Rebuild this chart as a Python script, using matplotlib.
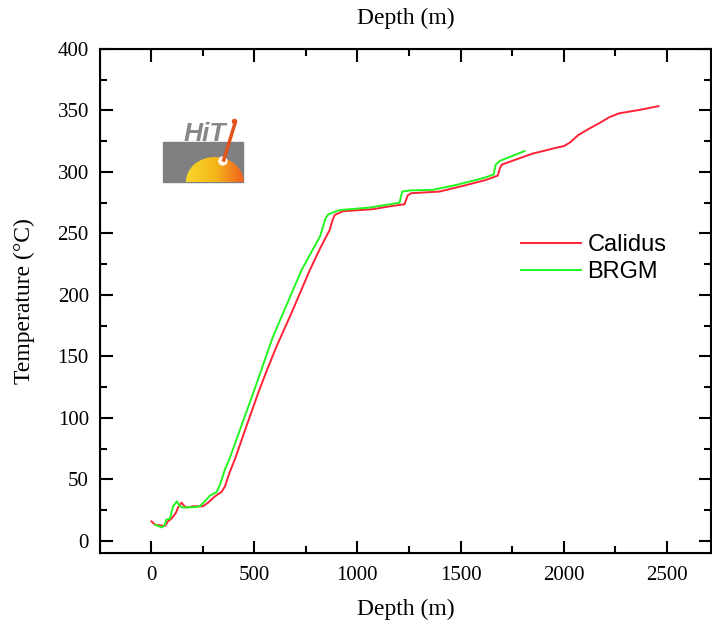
import matplotlib
matplotlib.use("Agg")
import matplotlib.pyplot as plt
import numpy as np
from matplotlib.patches import Rectangle, Ellipse, Circle
from matplotlib.colors import LinearSegmentedColormap
from matplotlib.ticker import MultipleLocator

# Calidus temperature log (depth m, temperature C)
calidus_depth = [3, 20, 68, 82, 100, 121, 131, 148, 160, 172, 204, 252, 277, 309, 342, 358,
                 382, 406, 460, 519, 560, 608, 680, 769, 820, 866, 880, 890, 930, 1075,
                 1156, 1228, 1244, 1261, 1397, 1510, 1623, 1680, 1690, 1700, 1750, 1800,
                 1850, 1900, 1958, 2000, 2030, 2070, 2120, 2171, 2220, 2268, 2365, 2458]
calidus_temp = [15.7, 13, 12, 15.7, 18, 22.7, 27, 31, 28.5, 27, 28, 28, 31, 36, 39.7, 44,
                56, 66, 92, 120, 138, 158, 185, 220, 238, 253, 261, 265, 268, 269.7,
                272, 273.7, 281, 282.7, 284, 288.6, 293.5, 297, 303, 306, 309, 312,
                315, 317, 319.5, 321, 324, 330, 335, 339.6, 344.5, 347.7, 350.4, 353.5]

# BRGM temperature log
brgm_depth = [20, 52, 68, 73, 92, 107, 126, 140, 156, 221, 236, 261, 285, 318, 334, 358,
              379, 495, 591, 729, 820, 845, 856, 866, 914, 1059, 1204, 1217, 1260, 1365,
              1478, 1575, 1620, 1660, 1670, 1690, 1750, 1810]
brgm_temp = [13, 10.8, 13, 17, 18, 28, 32, 28, 27, 27.4, 28, 32, 36.6, 39.6, 45.5, 57.7,
             66, 120, 166, 220, 248, 262, 265, 266, 269, 271, 275, 284, 285, 285.4,
             289.4, 293.5, 295.5, 298, 306, 309, 313, 317]

serif = 'Liberation Serif'

fig = plt.figure(figsize=(7.12, 6.25), dpi=100)
ax = fig.add_axes([0.1404, 0.1152, 0.8583, 0.8064])

ax.plot(calidus_depth, calidus_temp, color='#ff2236', lw=1.4, label='Calidus')
ax.plot(brgm_depth, brgm_temp, color='#22f522', lw=1.4, label='BRGM')

ax.set_xlim(-247, 2713)
ax.set_ylim(-10, 400)
ax.xaxis.set_major_locator(MultipleLocator(500))
ax.xaxis.set_minor_locator(MultipleLocator(250))
ax.yaxis.set_major_locator(MultipleLocator(50))
ax.yaxis.set_minor_locator(MultipleLocator(25))
ax.tick_params(which='both', direction='in', top=True, right=True, width=1.5,
               labelsize=15, labelfontfamily=serif)
ax.tick_params(axis='x', which='major', pad=9)
ax.tick_params(axis='y', which='major', pad=8)
ax.tick_params(which='major', length=9)
ax.tick_params(which='minor', length=5)
for s in ax.spines.values():
    s.set_linewidth(1.5)

ax.set_xlabel('Depth (m)', fontsize=17, family=serif, labelpad=10)
ax.set_ylabel('Temperature (°C)', fontsize=17, family=serif, labelpad=16)

top = ax.twiny()
top.set_xlim(ax.get_xlim())
top.xaxis.set_major_locator(MultipleLocator(500))
top.xaxis.set_minor_locator(MultipleLocator(250))
top.tick_params(which='both', direction='in', labeltop=False, width=1.5)
top.tick_params(which='major', length=9)
top.tick_params(which='minor', length=5)
top.set_xlabel('Depth (m)', fontsize=17, family=serif, labelpad=18)

leg = ax.legend(loc='upper left', bbox_to_anchor=(0.655, 0.675), frameon=False,
                prop={'family': 'Liberation Sans', 'size': 17},
                handlelength=2.5, handletextpad=0.3, labelspacing=0.2)

# HiTi logo
logo = fig.add_axes([0.2247, 0.7024, 0.119, 0.1088])
logo.axis('off')
logo.add_patch(Rectangle((3, 4), 80, 40, color='#808083'))
dome = Ellipse((55, 4), 58, 50, transform=logo.transData)
sun_cmap = LinearSegmentedColormap.from_list('sun', ['#f8d62a', '#f5b818', '#f06222'])
grad = logo.imshow(np.linspace(0, 1, 64).reshape(1, -1), cmap=sun_cmap, aspect='auto',
                   extent=(26, 84, 4, 30), zorder=3)
grad.set_clip_path(dome)
logo.set_xlim(0, 85)
logo.set_ylim(0, 68)
logo.add_patch(Circle((63, 25), 4, color='#fff8ea', zorder=4))
logo.plot([75, 64], [62, 26], color='#e2541c', lw=2.5, zorder=5)
logo.plot([74], [65.5], marker='o', ms=3, color='#e2541c', zorder=5)
logo.text(24, 45, 'HiT', fontsize=19, style='italic', weight='bold',
          color='#87878a', family='Liberation Sans')

fig.savefig('out.png', dpi=100)
